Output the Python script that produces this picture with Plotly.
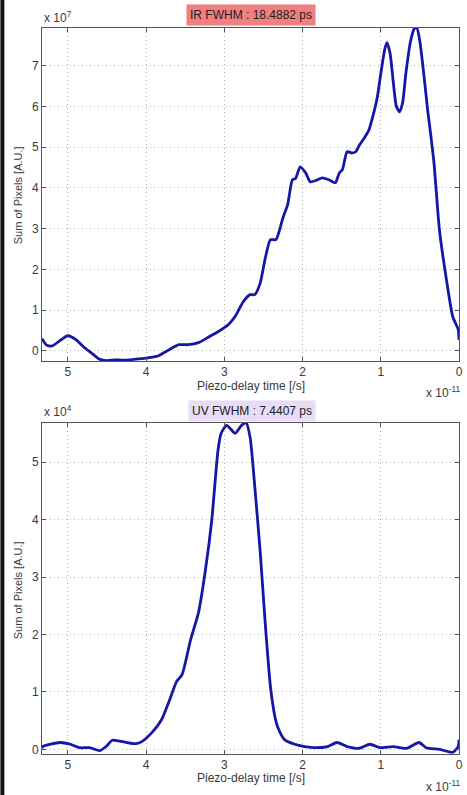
import plotly.graph_objects as go
from plotly.subplots import make_subplots

# IR trace: delay in units of 1e-11 s, signal in units of 1e7
ir_t = [5.33, 5.27, 5.20, 5.10, 5.00, 4.90, 4.80, 4.70, 4.60, 4.50, 4.40, 4.30, 4.20, 4.10, 4.00,
        3.96, 3.84, 3.71, 3.58, 3.46, 3.33, 3.20, 3.08, 2.95, 2.85, 2.76, 2.67, 2.61, 2.54, 2.48,
        2.41, 2.34, 2.25, 2.19, 2.13, 2.09, 2.03, 1.96, 1.90, 1.81, 1.75, 1.66, 1.58, 1.53, 1.49,
        1.43, 1.37, 1.32, 1.27, 1.20, 1.15, 1.05, 1.00, 0.95, 0.92, 0.88, 0.84, 0.80, 0.76, 0.72,
        0.68, 0.62, 0.57, 0.54, 0.50, 0.45, 0.40, 0.38, 0.32, 0.25, 0.16, 0.08, 0.01, 0.0]
ir_sum = [0.30, 0.14, 0.12, 0.25, 0.37, 0.28, 0.10, -0.05, -0.20, -0.24, -0.22, -0.23, -0.22, -0.20, -0.18,
          -0.17, -0.12, 0.02, 0.15, 0.15, 0.20, 0.34, 0.47, 0.64, 0.88, 1.20, 1.38, 1.38, 1.67, 2.24,
          2.73, 2.73, 3.27, 3.59, 4.20, 4.23, 4.52, 4.37, 4.15, 4.20, 4.25, 4.20, 4.13, 4.37, 4.45,
          4.89, 4.86, 4.89, 5.06, 5.26, 5.43, 6.17, 6.80, 7.40, 7.57, 7.30, 6.60, 6.00, 5.87, 6.10,
          6.80, 7.60, 7.92, 7.94, 7.60, 6.80, 5.90, 5.60, 4.62, 2.97, 1.74, 0.84, 0.52, 0.27]

# UV trace: delay in units of 1e-11 s, signal in units of 1e4
uv_t = [5.33, 5.32, 5.10, 4.97, 4.85, 4.72, 4.59, 4.51, 4.43, 4.25, 4.13, 4.05, 3.92, 3.80, 3.71,
        3.61, 3.54, 3.43, 3.33, 3.24, 3.16, 3.08, 3.04, 2.97, 2.86, 2.78, 2.72, 2.67, 2.61, 2.54,
        2.48, 2.41, 2.35, 2.32, 2.23, 2.10, 1.97, 1.85, 1.68, 1.56, 1.43, 1.27, 1.14, 1.01, 0.84,
        0.67, 0.51, 0.42, 0.25, 0.08, 0.01, 0.0]
uv_sum = [0.02, 0.05, 0.12, 0.09, 0.03, 0.03, -0.02, 0.05, 0.16, 0.12, 0.10, 0.14, 0.30, 0.52, 0.82,
          1.18, 1.30, 1.91, 2.38, 3.13, 3.99, 5.21, 5.50, 5.64, 5.50, 5.64, 5.68, 5.43, 4.57, 3.42,
          2.26, 1.09, 0.55, 0.40, 0.17, 0.09, 0.05, 0.03, 0.05, 0.12, 0.05, 0.02, 0.09, 0.03, 0.05,
          0.02, 0.12, 0.03, 0.0, -0.05, 0.05, 0.17]

x_ticks = [5, 4, 3, 2, 1, 0]
ir_ticks = [0, 1, 2, 3, 4, 5, 6, 7]
uv_ticks = [0, 1, 2, 3, 4, 5]

ir_title = "IR FWHM : 18.4882 ps"
uv_title = "UV FWHM : 7.4407 ps"
x_label = "Piezo-delay time [/s]"
y_label = "Sum of Pixels [A.U.]"

W, H = 467, 795
ML, MR, MT, MB = 42, 4, 28, 41
PW = W - ML - MR
PH = H - MT - MB

def fy(py):
    return (H - MB - py) / PH

def fx(px):
    return (px - ML) / PW

fig = make_subplots(rows=2, cols=1)
line = dict(color="#1616a8", width=2.8, shape="spline", smoothing=0.6)
fig.add_trace(go.Scatter(x=ir_t, y=ir_sum, mode="lines", line=line, showlegend=False), row=1, col=1)
fig.add_trace(go.Scatter(x=uv_t, y=uv_sum, mode="lines", line=line, showlegend=False), row=2, col=1)

font = dict(family="Liberation Sans, Arial, sans-serif", size=12, color="#3a3a3a")
axcommon = dict(showline=True, linecolor="#555555", linewidth=1, mirror="ticks",
                ticks="inside", ticklen=4, tickcolor="#555555",
                showgrid=True, gridcolor="#b4b4b4", griddash="1px,3px", gridwidth=1,
                zeroline=False, tickfont=font)

fig.update_xaxes(range=[5.33, 0.0], tickvals=x_ticks, ticktext=[str(v) for v in x_ticks], **axcommon)
fig.update_yaxes(**axcommon)
fig.update_yaxes(range=[-0.25, 7.93], tickvals=ir_ticks, row=1, col=1)
fig.update_yaxes(range=[-0.08, 5.68], tickvals=uv_ticks, row=2, col=1)

fig.update_layout(
    width=W, height=H,
    margin=dict(l=ML, r=MR, t=MT, b=MB),
    paper_bgcolor="white", plot_bgcolor="white",
    font=font,
)
fig.update_layout(
    yaxis=dict(domain=[fy(361), 1.0]),
    yaxis2=dict(domain=[0.0, fy(423)]),
)

ann = []
# titles
ann.append(dict(text=ir_title, xref="paper", yref="paper", x=fx(253), y=fy(15), showarrow=False,
                bgcolor="#f07f7f", font=dict(family=font["family"], size=12, color="#222222"),
                borderpad=3, xanchor="center", yanchor="middle"))
ann.append(dict(text=uv_title, xref="paper", yref="paper", x=fx(254), y=fy(411), showarrow=False,
                bgcolor="#e8dcf6", font=dict(family=font["family"], size=12, color="#222222"),
                borderpad=3, xanchor="center", yanchor="middle"))
# x labels
for py in (386, 778):
    ann.append(dict(text=x_label, xref="paper", yref="paper", x=fx(253), y=fy(py), showarrow=False,
                    font=font, xanchor="center", yanchor="middle"))
# y labels
for py in (195, 590):
    ann.append(dict(text=y_label, xref="paper", yref="paper", x=fx(18), y=fy(py), showarrow=False,
                    font=dict(family=font["family"], size=11, color="#3a3a3a"), textangle=-90,
                    xanchor="center", yanchor="middle"))
# exponents
ann.append(dict(text="x 10<sup>7</sup>", xref="paper", yref="paper", x=fx(42), y=fy(17), showarrow=False,
                font=font, xanchor="left", yanchor="middle"))
ann.append(dict(text="x 10<sup>4</sup>", xref="paper", yref="paper", x=fx(42), y=fy(411), showarrow=False,
                font=font, xanchor="left", yanchor="middle"))
for py in (392, 786):
    ann.append(dict(text="x 10<sup>-11</sup>", xref="paper", yref="paper", x=fx(428), y=fy(py), showarrow=False,
                    font=font, xanchor="left", yanchor="middle"))
fig.update_layout(annotations=ann)

# dark strip on the left edge of the picture
fig.add_shape(type="rect", xref="paper", yref="paper", x0=fx(0), x1=fx(4), y0=fy(H), y1=fy(0),
              fillcolor="#111111", line=dict(width=0), layer="above")

fig.write_html("out.html")
